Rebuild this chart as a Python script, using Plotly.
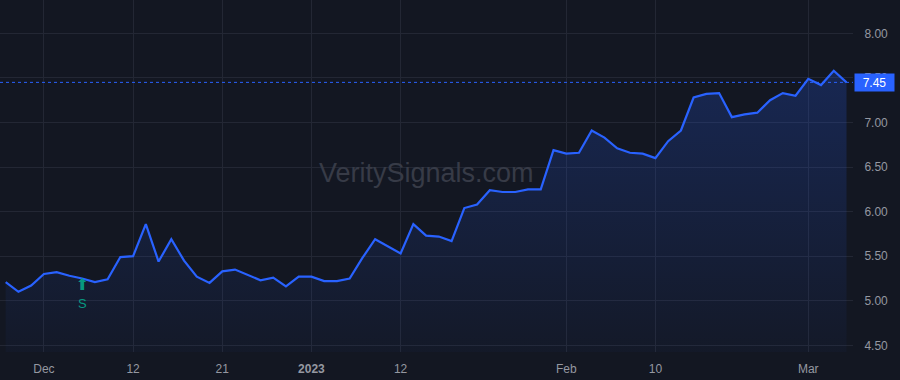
import plotly.graph_objects as go

# Trading days (weekends/holidays skipped)
dates = [
    "2022-11-28", "2022-11-29", "2022-11-30",
    "2022-12-01", "2022-12-02", "2022-12-05", "2022-12-06", "2022-12-07", "2022-12-08", "2022-12-09",
    "2022-12-12", "2022-12-13", "2022-12-14", "2022-12-15", "2022-12-16", "2022-12-19", "2022-12-20",
    "2022-12-21", "2022-12-22", "2022-12-23", "2022-12-27", "2022-12-28", "2022-12-29", "2022-12-30",
    "2023-01-03", "2023-01-04", "2023-01-05", "2023-01-06", "2023-01-09", "2023-01-10", "2023-01-11",
    "2023-01-12", "2023-01-13", "2023-01-17", "2023-01-18", "2023-01-19", "2023-01-20", "2023-01-23",
    "2023-01-24", "2023-01-25", "2023-01-26", "2023-01-27", "2023-01-30", "2023-01-31",
    "2023-02-01", "2023-02-02", "2023-02-03", "2023-02-06", "2023-02-07", "2023-02-08", "2023-02-09",
    "2023-02-10", "2023-02-13", "2023-02-14", "2023-02-15", "2023-02-16", "2023-02-17", "2023-02-21",
    "2023-02-22", "2023-02-23", "2023-02-24", "2023-02-27", "2023-02-28",
    "2023-03-01", "2023-03-02", "2023-03-03", "2023-03-06",
]

prices = [
    5.21, 5.10, 5.17, 5.30, 5.32, 5.28, 5.25, 5.21, 5.24, 5.49,
    5.50, 5.86, 5.44, 5.69, 5.45, 5.27, 5.20, 5.33, 5.35, 5.29,
    5.23, 5.26, 5.16, 5.27, 5.27, 5.22, 5.22, 5.25, 5.48, 5.69,
    5.61, 5.53, 5.86, 5.73, 5.72, 5.67, 6.04, 6.08, 6.24, 6.22,
    6.22, 6.25, 6.25, 6.69, 6.65, 6.66, 6.91, 6.83, 6.71, 6.66,
    6.65, 6.60, 6.79, 6.91, 7.28, 7.32, 7.33, 7.06, 7.09, 7.11,
    7.25, 7.33, 7.30, 7.49, 7.42, 7.58, 7.45,
]

x_tick_vals = ["2022-12-01", "2022-12-12", "2022-12-21", "2023-01-03",
               "2023-01-12", "2023-02-01", "2023-02-10", "2023-03-01"]
x_tick_text = ["Dec", "12", "21", "<b>2023</b>", "12", "Feb", "10", "Mar"]

y_tick_vals = [4.5, 5.0, 5.5, 6.0, 6.5, 7.0, 7.5, 8.0]

signal_dates = ["2022-12-06"]
signal_labels = ["S"]

last_price = prices[-1]

BG = "#131722"
GRID = "#232734"
BLUE = "#2962ff"
GREEN = "#089981"
TXT = "#9598a1"
FONT = "Liberation Sans, Arial, sans-serif"

fig = go.Figure()

fig.add_trace(go.Scatter(
    x=dates, y=prices, mode="lines",
    line=dict(color=BLUE, width=2.2),
    fill="tozeroy",
    fillgradient=dict(
        type="vertical",
        start=4.43, stop=7.6,
        colorscale=[[0, "rgba(41,98,255,0.03)"], [1, "rgba(41,98,255,0.22)"]],
    ),
    hoverinfo="skip",
))

# signal arrows (placed through the data axes, below the price point)
sig_y = [prices[dates.index(d)] for d in signal_dates]
fig.add_trace(go.Scatter(
    x=signal_dates, y=sig_y, mode="text",
    text=["⬆"] * len(signal_dates), textposition="bottom center",
    textfont=dict(color=GREEN, size=16, family="DejaVu Sans"),
    hoverinfo="skip",
))

# last price dotted line
fig.add_shape(type="line", xref="paper", x0=0, x1=1, yref="y", y0=last_price, y1=last_price,
              line=dict(color=BLUE, width=1, dash="dot"), layer="above")

# last price label
fig.add_annotation(xref="paper", x=1, xanchor="left", xshift=1, yref="y", y=last_price,
                   text=f"{last_price:.2f}", showarrow=False,
                   font=dict(color="white", size=12, family=FONT),
                   bgcolor=BLUE, borderpad=2, width=35, height=13, align="center")

# watermark
fig.add_annotation(xref="paper", yref="paper", x=0.5, y=0.508, text="VeritySignals.com",
                   showarrow=False, font=dict(color="#373b47", size=27, family=FONT))

# signal labels
for d, lab in zip(signal_dates, signal_labels):
    i = dates.index(d)
    fig.add_annotation(x=d, y=prices[i], yshift=-25, text=lab, showarrow=False,
                       font=dict(color=GREEN, size=13, family=FONT))

n = len(dates)
fig.update_layout(
    width=900, height=380,
    margin=dict(l=0, r=47, t=0, b=28),
    paper_bgcolor=BG, plot_bgcolor=BG,
    showlegend=False, hovermode=False,
    font=dict(family=FONT, color=TXT, size=12),
    xaxis=dict(
        type="category", range=[-0.447, n - 0.49],
        tickmode="array", tickvals=x_tick_vals, ticktext=x_tick_text,
        showgrid=True, gridcolor=GRID, gridwidth=1,
        zeroline=False, showline=False,
        ticks="outside", ticklen=6, tickcolor=BG,
        tickfont=dict(color=TXT, size=12),
    ),
    yaxis=dict(
        side="right", range=[4.425, 8.374],
        tickmode="array", tickvals=y_tick_vals, tickformat=".2f",
        showgrid=True, gridcolor=GRID, gridwidth=1,
        zeroline=False, showline=False,
        ticks="outside", ticklen=8, tickcolor=BG,
        tickfont=dict(color=TXT, size=12),
    ),
)

fig.write_html("out.html")
